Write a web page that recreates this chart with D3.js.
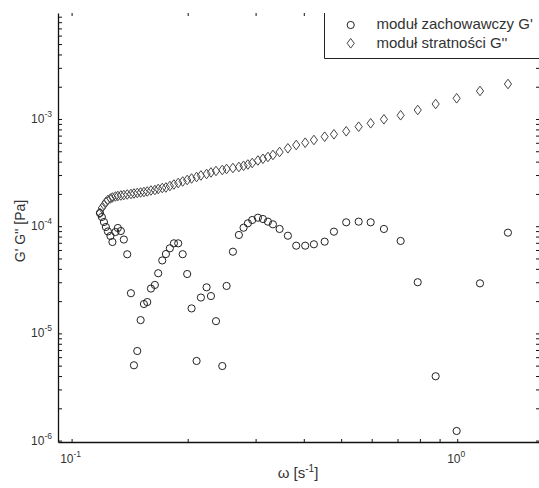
<!DOCTYPE html>
<html>
<head>
<meta charset="utf-8">
<script src="https://cdn.jsdelivr.net/npm/d3@7"></script>
<style>
  body { margin: 0; background: #fff; }
  text { font-family: "Liberation Sans", Arial, sans-serif; }
</style>
</head>
<body>
<script>
'use strict';

// angular frequency [1/s]
const omega = [0.1184, 0.1198, 0.1213, 0.1227, 0.1242, 0.1261, 0.1276, 0.1299, 0.1318, 0.1342,
  0.1366, 0.1394, 0.1425, 0.1451, 0.1480, 0.1510, 0.1540, 0.1571, 0.1606, 0.1644,
  0.1677, 0.1718, 0.1756, 0.1798, 0.1842, 0.1890, 0.1941, 0.1994, 0.2047, 0.2109,
  0.2164, 0.2239, 0.2298, 0.2368, 0.2459, 0.2523, 0.2620, 0.2715, 0.2792, 0.2865,
  0.2940, 0.3042, 0.3134, 0.3229, 0.3327, 0.3462, 0.3638, 0.3823, 0.4034, 0.4249,
  0.4531, 0.4789, 0.5153, 0.5551, 0.5963, 0.6455, 0.7132, 0.7898, 0.8790, 0.9964,
  1.1454, 1.3534];

// storage modulus G' [Pa]
const gStorage = [1.327e-4, 1.218e-4, 1.094e-4, 9.83e-5, 8.93e-5, 8.10e-5, 7.12e-5, 8.83e-5, 9.62e-5, 9.02e-5,
  7.51e-5, 5.47e-5, 2.37e-5, 5.04e-6, 6.85e-6, 1.33e-5, 1.88e-5, 1.96e-5, 2.62e-5, 2.83e-5,
  3.64e-5, 4.79e-5, 5.50e-5, 6.22e-5, 6.92e-5, 6.92e-5, 5.48e-5, 3.58e-5, 1.71e-5, 5.53e-6,
  2.16e-5, 2.69e-5, 2.23e-5, 1.30e-5, 4.96e-6, 2.77e-5, 5.78e-5, 8.28e-5, 9.68e-5, 1.064e-4,
  1.142e-4, 1.200e-4, 1.167e-4, 1.102e-4, 1.041e-4, 9.42e-5, 8.15e-5, 6.58e-5, 6.58e-5, 6.78e-5,
  7.17e-5, 8.89e-5, 1.087e-4, 1.102e-4, 1.087e-4, 9.42e-5, 7.28e-5, 3.00e-5, 3.98e-6, 1.229e-6,
  2.93e-5, 8.70e-5];

// loss modulus G'' [Pa]
const gLoss = [1.327e-4, 1.478e-4, 1.577e-4, 1.681e-4, 1.756e-4, 1.813e-4, 1.853e-4, 1.893e-4, 1.913e-4, 1.934e-4,
  1.954e-4, 1.976e-4, 1.997e-4, 2.018e-4, 2.040e-4, 2.062e-4, 2.084e-4, 2.107e-4, 2.153e-4, 2.176e-4,
  2.223e-4, 2.271e-4, 2.296e-4, 2.371e-4, 2.449e-4, 2.529e-4, 2.612e-4, 2.698e-4, 2.786e-4, 2.877e-4,
  2.972e-4, 3.069e-4, 3.170e-4, 3.273e-4, 3.345e-4, 3.417e-4, 3.491e-4, 3.567e-4, 3.660e-4, 3.763e-4,
  3.886e-4, 4.101e-4, 4.253e-4, 4.421e-4, 4.615e-4, 4.922e-4, 5.330e-4, 5.721e-4, 6.011e-4, 6.370e-4,
  6.838e-4, 7.199e-4, 7.679e-4, 8.476e-4, 9.119e-4, 9.936e-4, 1.083e-3, 1.213e-3, 1.380e-3, 1.560e-3,
  1.825e-3, 2.121e-3];

const xLabelTicks = [0.1, 1];
const xLabelExp = ["-1", "0"];
const xMinorTicks = [0.2, 0.3, 0.4, 0.5, 0.6, 0.7, 0.8, 0.9];
const yLabelTicks = [1e-6, 1e-5, 1e-4, 1e-3];
const yLabelExp = ["-6", "-5", "-4", "-3"];
const legendNames = ["moduł zachowawczy G'", "moduł stratności G''"];

const width = 539, height = 488;
const margin = {top: 13, right: -1, bottom: 46, left: 58};

const svg = d3.select('body').append('svg')
  .attr('width', width)
  .attr('height', height);

const x = d3.scaleLog()
  .domain([0.0922, 1.639])
  .range([margin.left, width - margin.right]);

const y = d3.scaleLog()
  .domain([9.70e-7, 9.745e-3])
  .range([height - margin.bottom, margin.top]);

// all log ticks of the y range (1..9 per decade)
let yAllTicks = [];
for (let e = -7; e <= -2; e++) {
  for (let m = 1; m <= 9; m++) {
    let v = m * Math.pow(10, e);
    if (v >= y.domain()[0] && v <= y.domain()[1]) yAllTicks.push(v);
  }
}
const xAllTicks = xLabelTicks.concat(xMinorTicks);

const x0 = margin.left, x1 = width - margin.right;
const y0 = height - margin.bottom, y1 = margin.top;

// axes with inward ticks
function cleanAxis(g) {
  g.selectAll('text').remove();
  g.selectAll('line').attr('stroke', '#111');
}

svg.append('g')
  .attr('transform', 'translate(0,' + y0 + ')')
  .call(d3.axisBottom(x).tickValues(xAllTicks).tickSize(-3).tickSizeOuter(0).tickFormat(''))
  .call(cleanAxis)
  .select('.domain').attr('stroke', '#111').attr('stroke-width', 1.3);

svg.append('g')
  .attr('transform', 'translate(0,' + y1 + ')')
  .call(d3.axisTop(x).tickValues(xAllTicks).tickSize(-3).tickSizeOuter(0).tickFormat(''))
  .call(cleanAxis)
  .select('.domain').remove();

svg.append('g')
  .attr('transform', 'translate(' + x0 + ',0)')
  .call(d3.axisLeft(y).tickValues(yAllTicks).tickSize(-4).tickSizeOuter(0).tickFormat(''))
  .call(cleanAxis)
  .select('.domain').attr('stroke', '#111').attr('stroke-width', 1.3);

svg.append('g')
  .attr('transform', 'translate(' + x1 + ',0)')
  .call(d3.axisRight(y).tickValues(yAllTicks).tickSize(-4).tickSizeOuter(0).tickFormat(''))
  .call(cleanAxis)
  .select('.domain').remove();

// tick labels with superscript exponents
xLabelTicks.forEach(function(v, i) {
  let t = svg.append('text')
    .attr('x', x(v) - 1)
    .attr('y', 463)
    .attr('text-anchor', 'middle')
    .style('font-size', '12px')
    .attr('fill', '#333');
  t.append('tspan').text('10');
  t.append('tspan').attr('dy', -6).style('font-size', '8.5px').text(xLabelExp[i]);
});

yLabelTicks.forEach(function(v, i) {
  let t = svg.append('text')
    .attr('x', 52)
    .attr('y', y(v) + 4)
    .attr('text-anchor', 'end')
    .style('font-size', '12px')
    .attr('fill', '#333');
  t.append('tspan').text('10');
  t.append('tspan').attr('dy', -6).style('font-size', '8.5px').text(yLabelExp[i]);
});

// axis titles
let xt = svg.append('text')
  .attr('x', 298)
  .attr('y', 478)
  .attr('text-anchor', 'middle')
  .style('font-size', '15px')
  .attr('fill', '#333');
xt.append('tspan').text('ω [s');
xt.append('tspan').attr('dy', -6).style('font-size', '10px').text('-1');
xt.append('tspan').attr('dy', 6).text(']');

svg.append('text')
  .attr('transform', 'translate(25,231)rotate(-90)')
  .attr('text-anchor', 'middle')
  .style('font-size', '14px')
  .attr('fill', '#333')
  .text("G' G'' [Pa]");

// markers
const diamond = 'M0,-4.8L3.6,0L0,4.8L-3.6,0Z';

svg.append('g').selectAll('path')
  .data(omega)
  .enter()
  .append('path')
  .attr('d', diamond)
  .attr('transform', (d, i) => 'translate(' + x(d) + ',' + y(gLoss[i]) + ')')
  .attr('fill', 'none')
  .attr('stroke', '#444')
  .attr('stroke-width', 1);

svg.append('g').selectAll('circle')
  .data(omega)
  .enter()
  .append('circle')
  .attr('cx', d => x(d))
  .attr('cy', (d, i) => y(gStorage[i]))
  .attr('r', 3.6)
  .attr('fill', 'none')
  .attr('stroke', '#222')
  .attr('stroke-width', 1);

// legend (white box over the top-right corner)
const lx = 324.5, ly = 58.5;
svg.append('rect')
  .attr('x', lx).attr('y', 0)
  .attr('width', width - lx + 2).attr('height', ly)
  .attr('fill', '#fff');
svg.append('path')
  .attr('d', 'M' + lx + ',' + y1 + 'V' + ly + 'H' + (width + 2))
  .attr('fill', 'none')
  .attr('stroke', '#222')
  .attr('stroke-width', 1);

svg.append('circle')
  .attr('cx', 350.7).attr('cy', 25).attr('r', 3.6)
  .attr('fill', 'none').attr('stroke', '#222');
svg.append('path')
  .attr('d', diamond)
  .attr('transform', 'translate(350.7,43.3)')
  .attr('fill', 'none').attr('stroke', '#444');

legendNames.forEach(function(name, i) {
  svg.append('text')
    .attr('x', 376.5)
    .attr('y', 29 + i * 18.5)
    .style('font-size', '15px')
    .attr('fill', '#333')
    .text(name);
});
</script>
</body>
</html>
